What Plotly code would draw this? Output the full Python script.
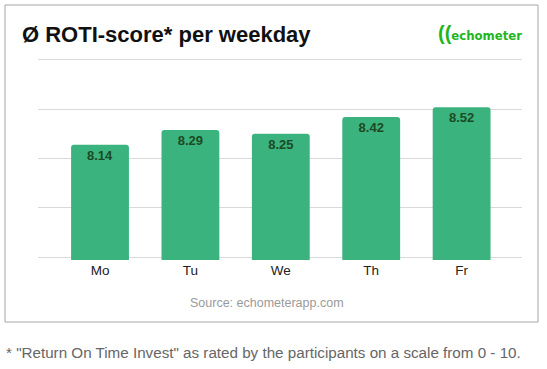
import plotly.graph_objects as go

days = ["Mo", "Tu", "We", "Th", "Fr"]
scores = [8.14, 8.29, 8.25, 8.42, 8.52]
score_labels = ["8.14", "8.29", "8.25", "8.42", "8.52"]

W, H = 547, 369
def px(x): return x / W
def py(y): return 1 - y / H

FONT = "Liberation Sans, Arial, sans-serif"
BAR = "#3bb37f"
LOGO = "#1fb51f"

fig = go.Figure(go.Bar(
    x=days, y=scores, text=score_labels,
    textposition="inside", insidetextanchor="end",
    textfont=dict(family=FONT, size=13, color="#1c4a22", weight="bold"),
    marker=dict(color=BAR, line=dict(width=0), cornerradius=3),
    width=0.64, hoverinfo="skip",
))

fig.update_layout(
    width=W, height=H, margin=dict(l=0, r=0, t=0, b=0),
    paper_bgcolor="white", plot_bgcolor="white", showlegend=False,
    font=dict(family=FONT),
    xaxis=dict(domain=[px(38), px(522)], range=[-0.686, 4.668],
               showgrid=False, showline=False, ticks="",
               tickfont=dict(size=13.5, color="#222222"), fixedrange=True),
    yaxis=dict(domain=[py(260), py(57)], range=[6.97, 9.03], tickvals=[7, 7.5, 8, 8.5, 9],
               showticklabels=False, showgrid=True, gridcolor="#d9d9d9",
               gridwidth=1, zeroline=False, fixedrange=True),
    bargap=0.3,
)

# Border box
fig.add_shape(type="rect", xref="paper", yref="paper",
              x0=px(5), y0=py(322), x1=px(538), y1=py(5),
              line=dict(color="#a6a6a6", width=1), layer="below")

fig.add_annotation(xref="paper", yref="paper", x=px(20), y=py(35),
                   xanchor="left", yanchor="middle", showarrow=False,
                   text="<b>Ø ROTI-score* per weekday</b>",
                   font=dict(family=FONT, size=22, color="#111111"))
fig.add_annotation(xref="paper", yref="paper", x=px(436), y=py(33),
                   xanchor="left", yanchor="middle", showarrow=False,
                   text="<span style='font-size:20px;font-family:Liberation Sans'><b>((</b></span>"
                        "<b>echometer</b>",
                   font=dict(family="DejaVu Sans Condensed, DejaVu Sans, sans-serif", size=13, color=LOGO))
fig.add_annotation(xref="paper", yref="paper", x=px(267), y=py(303),
                   xanchor="center", yanchor="middle", showarrow=False,
                   text="Source: echometerapp.com",
                   font=dict(family=FONT, size=12.5, color="#9a9a9a"))
fig.add_annotation(xref="paper", yref="paper", x=px(4), y=py(352),
                   xanchor="left", yanchor="middle", showarrow=False,
                   text='* "Return On Time Invest" as rated by the participants on a scale from 0 - 10.',
                   font=dict(family=FONT, size=15.2, color="#666666"))

fig.write_html("out.html", config={"displayModeBar": False},
               post_script="document.body.style.margin='0';document.body.style.overflow='hidden';")
